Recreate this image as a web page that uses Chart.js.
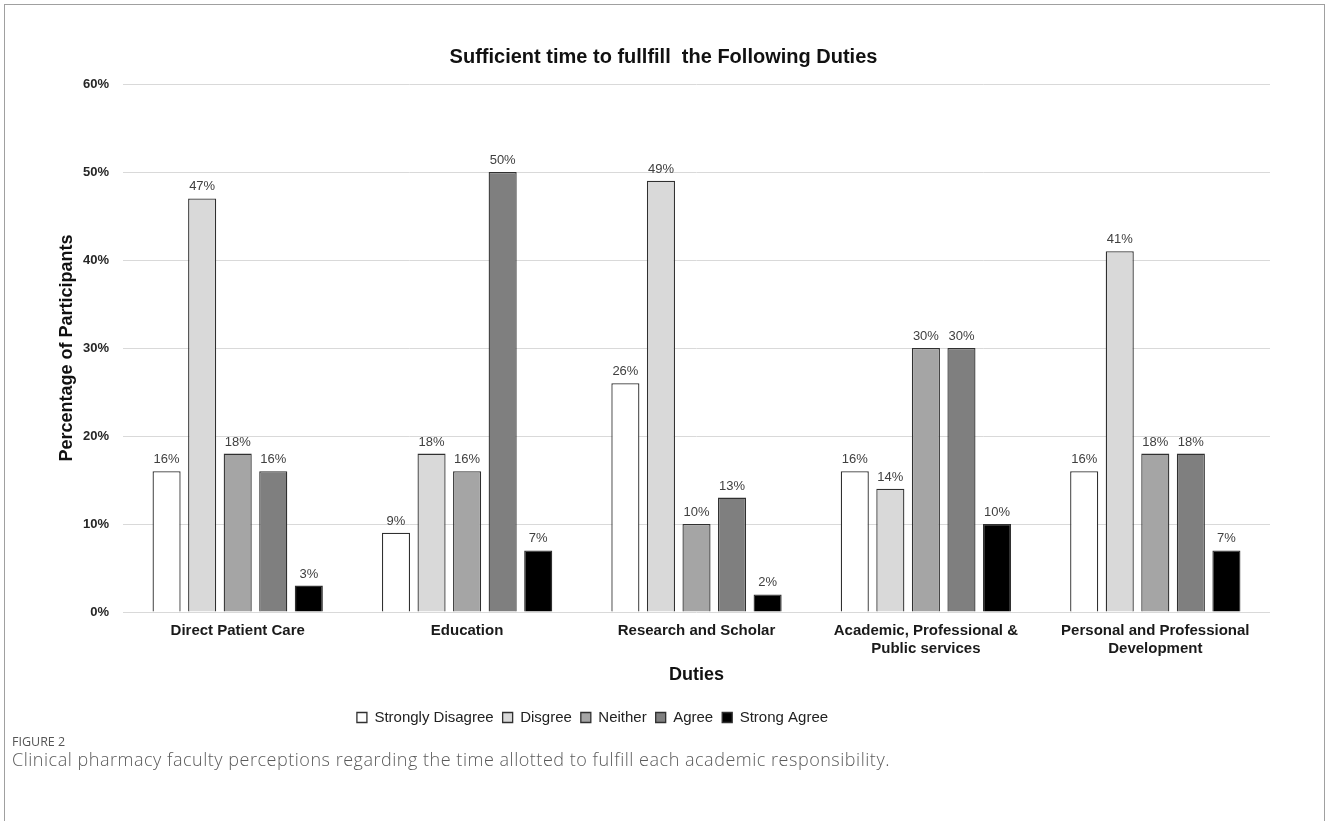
<!DOCTYPE html>
<html>
<head>
<meta charset="utf-8">
<script src="https://cdn.jsdelivr.net/npm/chart.js@4/dist/chart.umd.min.js"></script>
<style>
  html, body { margin: 0; padding: 0; background: #ffffff; }
  #frame {
    position: absolute; left: 4px; top: 4px;
    width: 1321px; height: 840px;
    border: 1px solid #a0a0a0; border-bottom: none;
    box-sizing: border-box;
  }
  #wrap { position: absolute; left: 0px; top: 0px; width: 1317px; height: 730px; }
  #fig-label {
    position: absolute; left: 7px; top: 728px;
    font-family: "Open Sans", "Noto Sans", sans-serif; font-size: 12.5px;
    color: #555555;
  }
  #fig-caption {
    position: absolute; left: 7px; top: 742px;
    font-family: "Open Sans", "Noto Sans", sans-serif; font-size: 18px;
    letter-spacing: 0.52px;
    color: #5a5a5a; font-weight: 300;
  }
</style>
</head>
<body>
<div id="frame">
  <div id="wrap"><canvas id="chart" width="1317" height="730"></canvas></div>
  <div id="fig-label">FIGURE 2</div>
  <div id="fig-caption">Clinical pharmacy faculty perceptions regarding the time allotted to fulfill each academic responsibility.</div>
</div>
<script>
// Duties surveyed
const categories = [
  'Direct Patient Care',
  'Education',
  'Research and Scholar',
  ['Academic, Professional &', 'Public services'],
  ['Personal and Professional', 'Development']
];

// Response levels (legend order)
const seriesNames = ['Strongly Disagree', 'Disgree', 'Neither', 'Agree', 'Strong Agree'];

// Percentage of participants per response, one value per duty
const stronglyDisagree = [16, 9, 26, 16, 16];
const disagree         = [47, 18, 49, 14, 41];
const neither          = [18, 16, 10, 30, 18];
const agree            = [16, 50, 13, 30, 18];
const strongAgree      = [3, 7, 2, 10, 7];

// Y axis ticks
const yTicks = [0, 10, 20, 30, 40, 50, 60];

const seriesValues = [stronglyDisagree, disagree, neither, agree, strongAgree];
const seriesColors = ['#ffffff', '#d9d9d9', '#a5a5a5', '#7f7f7f', '#000000'];

const datasets = seriesNames.map((name, i) => ({
  label: name,
  data: seriesValues[i],
  backgroundColor: seriesColors[i],
  borderColor: '#303030',
  borderWidth: 1.3,
  categoryPercentage: 0.775,
  barPercentage: 0.79
}));

// Writes each bar's value above it
const valueLabels = {
  id: 'valueLabels',
  afterDatasetsDraw(chart) {
    const ctx = chart.ctx;
    ctx.save();
    ctx.font = '13px "Liberation Sans", Arial, sans-serif';
    ctx.fillStyle = '#404040';
    ctx.textAlign = 'center';
    ctx.textBaseline = 'bottom';
    chart.data.datasets.forEach((ds, di) => {
      chart.getDatasetMeta(di).data.forEach((bar, j) => {
        ctx.fillText(ds.data[j] + '%', bar.x, bar.y - 5);
      });
    });
    ctx.restore();
  }
};

// Moves the legend row left of the canvas centre
const legendOffset = {
  id: 'legendOffset',
  afterLayout(chart) {
    if (chart.legend) {
      chart.legend.left -= 71;
      chart.legend.right -= 71;
    }
  }
};

new Chart(document.getElementById('chart'), {
  type: 'bar',
  data: { labels: categories, datasets },
  plugins: [valueLabels, legendOffset],
  options: {
    responsive: false,
    animation: false,
    layout: { padding: 0 },
    plugins: {
      tooltip: { enabled: false },
      title: {
        display: true,
        text: 'Sufficient time to fullfill  the Following Duties',
        color: '#111111',
        font: { family: '"Liberation Sans", Arial, sans-serif', size: 20, weight: 'bold' },
        padding: { top: 40, bottom: 15 }
      },
      legend: {
        position: 'bottom',
        labels: {
          color: '#222222',
          font: { family: '"Liberation Sans", Arial, sans-serif', size: 15 },
          boxWidth: 10,
          boxHeight: 10,
          padding: 9
        }
      }
    },
    scales: {
      x: {
        grid: { display: false, drawTicks: false },
        border: { display: false },
        ticks: {
          color: '#1a1a1a',
          padding: 10,
          maxRotation: 0,
          autoSkip: false,
          font: { family: '"Liberation Sans", Arial, sans-serif', size: 15, weight: 'bold' }
        },
        title: {
          display: true,
          text: 'Duties',
          color: '#111111',
          font: { family: '"Liberation Sans", Arial, sans-serif', size: 18, weight: 'bold' },
          padding: { top: 0, bottom: 15 }
        },
        afterFit(scale) { scale.height = 89; }
      },
      y: {
        min: yTicks[0],
        max: yTicks[yTicks.length - 1],
        afterBuildTicks(scale) { scale.ticks = yTicks.map(v => ({ value: v })); },
        grid: { color: '#d9d9d9', lineWidth: 1, drawTicks: false },
        border: { display: false },
        ticks: {
          color: '#262626',
          padding: 14,
          font: { family: '"Liberation Sans", Arial, sans-serif', size: 13, weight: 'bold' },
          callback: v => v + '%'
        },
        title: {
          display: true,
          text: 'Percentage of Participants',
          color: '#111111',
          font: { family: '"Liberation Sans", Arial, sans-serif', size: 18, weight: 'bold' },
          padding: { top: 51, bottom: 0 }
        },
        afterFit(scale) { scale.width = 118; }
      },
      yRight: {
        position: 'right',
        display: true,
        grid: { display: false, drawTicks: false },
        border: { display: false },
        ticks: { display: false },
        afterFit(scale) { scale.width = 52; }
      }
    }
  }
});
</script>
</body>
</html>
